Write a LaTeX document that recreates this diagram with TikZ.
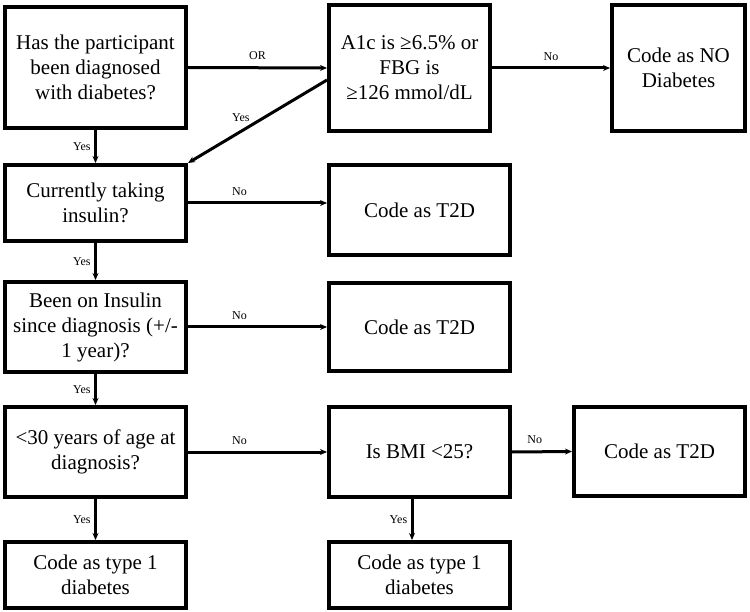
\documentclass[tikz,border=0pt]{standalone}
\usepackage{fontspec}
\setmainfont{Liberation Serif}
\newfontfamily\boxfont{Liberation Serif}
\usetikzlibrary{arrows.meta}

\begin{document}
\begin{tikzpicture}[x=1pt, y=-1pt,
  box/.style={draw, line width=4pt, align=center, inner sep=2pt,
    font=\boxfont\fontsize{21}{25}\selectfont},
  flow/.style={line width=3pt, -{Stealth[length=7pt,width=6pt]}},
  lab/.style={font=\boxfont\fontsize{12}{14}\selectfont}]
\useasboundingbox (0,0) rectangle (750,612);
% first row
\node[box, minimum width=181pt, minimum height=121pt] (has) at (95.5,67.5) {Has the participant\\been diagnosed\\with diabetes?};
\node[box, minimum width=161pt, minimum height=126pt] (aonec) at (409.5,68) {A1c is ≥6.5\% or\\FBG is\\≥126 mmol/dL};
\node[box, minimum width=133pt, minimum height=126pt] (nodiab) at (678.5,68) {Code as NO\\Diabetes};
% left column
\node[box, minimum width=181pt, minimum height=76pt] (insulin) at (95.5,203) {Currently taking\\insulin?};
\node[box, minimum width=181pt, minimum height=90pt] (since) at (95.5,327) {Been on Insulin\\since diagnosis (+/-\\1 year)?};
\node[box, minimum width=181pt, minimum height=90pt] (age) at (95.5,452) {<30 years of age at\\diagnosis?};
\node[box, minimum width=181pt, minimum height=66pt] (typeA) at (95.5,575) {Code as type 1\\diabetes};
% right side
\node[box, minimum width=181pt, minimum height=90pt] (ttdA) at (419.5,210) {Code as T2D};
\node[box, minimum width=181pt, minimum height=88pt] (ttdB) at (419.5,327) {Code as T2D};
\node[box, minimum width=181pt, minimum height=90pt] (bmi) at (419.5,452) {Is BMI <25?};
\node[box, minimum width=171pt, minimum height=89pt] (ttdC) at (659.5,451.5) {Code as T2D};
\node[box, minimum width=181pt, minimum height=66pt] (typeB) at (419.5,575) {Code as type 1\\diabetes};

\draw[flow] (has.east) -- node[lab, above=3pt] {OR} (aonec.west);
\draw[flow] (aonec.east) -- node[lab, above=3pt] {No} (nodiab.west);
\draw[flow] ([yshift=-12pt]aonec.west) -- node[lab, pos=0.62, above=5pt] {Yes} (insulin.north east);
\draw[flow] (has.south) -- node[lab, left] {Yes} (insulin.north);
\draw[flow] (insulin.east) -- node[lab, pos=0.37, above=3pt] {No} (insulin.east -| ttdA.west);
\draw[flow] (insulin.south) -- node[lab, left] {Yes} (since.north);
\draw[flow] (since.east) -- node[lab, pos=0.37, above=3pt] {No} (ttdB.west);
\draw[flow] (since.south) -- node[lab, left] {Yes} (age.north);
\draw[flow] (age.east) -- node[lab, pos=0.37, above=3pt] {No} (bmi.west);
\draw[flow] (bmi.east) -- node[lab, pos=0.38, above=3pt] {No} (ttdC.west);
\draw[flow] (age.south) -- node[lab, left] {Yes} (typeA.north);
\draw[flow] ([xshift=-7.5pt]bmi.south) -- node[lab, left] {Yes} ([xshift=-7.5pt]typeB.north);
\end{tikzpicture}
\end{document}
